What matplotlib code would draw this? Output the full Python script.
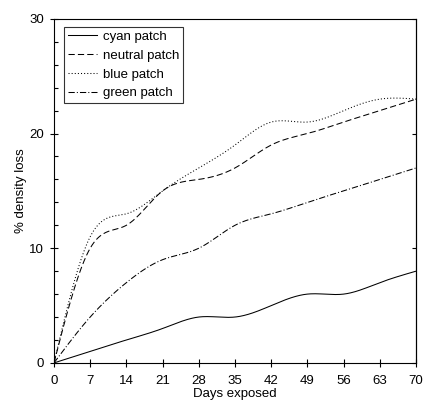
import numpy as np
import matplotlib
matplotlib.use("Agg")
import matplotlib.pyplot as plt
from matplotlib.ticker import MultipleLocator

plt.rcParams['font.family'] = ['Liberation Sans', 'DejaVu Sans']

days = [0, 7, 14, 21, 28, 35, 42, 49, 56, 63, 70]
cyan = [0, 1, 2, 3, 4, 4, 5, 6, 6, 7, 8]
neutral = [0, 10, 12, 15, 16, 17, 19, 20, 21, 22, 23]
blue = [0, 11, 13, 15, 17, 19, 21, 21, 22, 23, 23]
green = [0, 4, 7, 9, 10, 12, 13, 14, 15, 16, 17]

series = [
    ("cyan patch", cyan, "-"),
    ("neutral patch", neutral, (0, (6, 3))),
    ("blue patch", blue, (0, (1, 2))),
    ("green patch", green, (0, (6, 2, 1, 2))),
]

FS = 9.5


def smooth(x, y, n=400):
    """Natural cubic spline through the measured points."""
    x = np.asarray(x, float)
    y = np.asarray(y, float)
    m = len(x)
    h = np.diff(x)
    A = np.zeros((m, m))
    r = np.zeros(m)
    A[0, 0] = A[-1, -1] = 1
    for i in range(1, m - 1):
        A[i, i - 1] = h[i - 1]
        A[i, i] = 2 * (h[i - 1] + h[i])
        A[i, i + 1] = h[i]
        r[i] = 6 * ((y[i + 1] - y[i]) / h[i] - (y[i] - y[i - 1]) / h[i - 1])
    M = np.linalg.solve(A, r)
    xs = np.linspace(x[0], x[-1], n)
    k = np.clip(np.searchsorted(x, xs) - 1, 0, m - 2)
    t0 = xs - x[k]
    t1 = x[k + 1] - xs
    hk = h[k]
    ys = (M[k] * t1**3 + M[k + 1] * t0**3) / (6 * hk) \
        + (y[k] / hk - M[k] * hk / 6) * t1 + (y[k + 1] / hk - M[k + 1] * hk / 6) * t0
    return xs, ys


fig = plt.figure(figsize=(4.25, 4.01), dpi=100)
ax = fig.add_axes([0.127, 0.095, 0.852, 0.858])

for label, vals, ls in series:
    xs, ys = smooth(days, vals)
    ax.plot(xs, ys, color="black", lw=0.75, linestyle=ls, label=label)

ax.set_xlim(0, 70)
ax.set_ylim(0, 30)
ax.xaxis.set_major_locator(MultipleLocator(7))
ax.yaxis.set_major_locator(MultipleLocator(10))
ax.yaxis.set_minor_locator(MultipleLocator(2))
ax.tick_params(axis="both", which="both", labelsize=FS, width=0.8)
ax.tick_params(axis="x", which="major", direction="inout", length=6, pad=6)
ax.tick_params(axis="y", which="major", direction="inout", length=6, pad=4)
ax.tick_params(axis="y", which="minor", direction="in", length=3)
for s in ax.spines.values():
    s.set_linewidth(0.8)

# short inward major ticks on the right edge
right = ax.secondary_yaxis("right")
right.yaxis.set_major_locator(MultipleLocator(10))
right.tick_params(direction="in", length=3, width=0.8, labelright=False)
right.spines["right"].set_linewidth(0.8)

ax.set_xlabel("Days exposed", fontsize=FS, labelpad=0.5)
ax.set_ylabel("% density loss", fontsize=FS, labelpad=2)

leg = ax.legend(loc="upper left", bbox_to_anchor=(0.028, 0.977), fontsize=FS,
                frameon=True, fancybox=False, edgecolor="black",
                handlelength=2.2, handletextpad=0.45, borderpad=0.3,
                labelspacing=0.5, borderaxespad=0)
leg.get_frame().set_linewidth(0.8)

fig.savefig("out.png", dpi=100)
